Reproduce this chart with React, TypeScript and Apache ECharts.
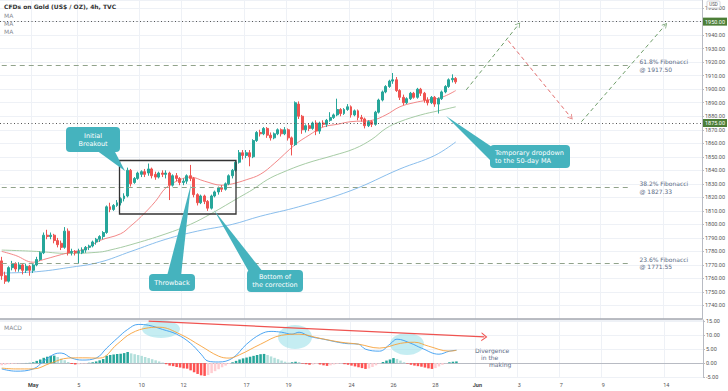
import React, { useEffect, useRef } from 'react';
import * as echarts from 'echarts';

const BAR_COUNT = 201;

// x-axis tick labels (bar index of each label)
const xTickIndex = [9, 22, 40, 52, 70, 82, 100, 112, 124, 136, 148, 160, 172, 190];
const xTickText = ['May', '5', '10', '12', '17', '19', '24', '26', '28', 'Jun', '3', '7', '9', '14'];
const xTickBold = ['May', 'Jun'];

// 4h candles: [open, close, low, high]
const candles: number[][] = [
  [1773, 1762, 1759, 1776], [1762, 1758, 1756, 1765], [1758, 1768, 1757, 1769], [1768, 1771, 1766, 1773],
  [1771, 1767, 1765, 1772], [1767, 1770, 1765, 1772], [1770, 1766, 1763, 1771], [1766, 1769, 1764, 1771],
  [1769, 1766, 1762, 1770], [1766, 1770, 1764, 1771], [1770, 1774, 1769, 1776], [1774, 1779, 1773, 1780],
  [1779, 1792, 1778, 1794], [1792, 1791, 1789, 1796], [1791, 1792, 1789, 1794], [1792, 1788, 1786, 1793],
  [1788, 1785, 1783, 1790], [1786, 1783, 1781, 1788], [1783, 1795, 1782, 1798], [1795, 1779, 1777, 1797],
  [1779, 1780, 1777, 1782], [1780, 1779, 1777, 1781], [1779, 1780, 1771, 1782], [1779, 1781, 1778, 1783],
  [1781, 1783, 1779, 1784], [1783, 1784, 1781, 1785], [1784, 1787, 1783, 1788], [1787, 1789, 1785, 1790],
  [1789, 1791, 1787, 1792], [1791, 1794, 1789, 1795], [1794, 1813, 1793, 1814], [1813, 1811, 1809, 1816],
  [1811, 1814, 1810, 1815], [1814, 1816, 1813, 1818], [1816, 1819, 1814, 1820], [1819, 1821, 1817, 1823],
  [1821, 1840, 1820, 1842], [1840, 1830, 1828, 1841], [1831, 1834, 1830, 1835], [1834, 1838, 1833, 1839],
  [1837, 1839, 1835, 1840], [1839, 1837, 1835, 1841], [1838, 1841, 1836, 1845], [1841, 1836, 1834, 1842],
  [1837, 1835, 1833, 1839], [1835, 1838, 1834, 1839], [1838, 1837, 1835, 1840], [1837, 1838, 1834, 1840],
  [1838, 1829, 1818, 1839], [1829, 1836, 1828, 1837], [1836, 1834, 1832, 1838], [1834, 1831, 1829, 1835],
  [1831, 1832, 1829, 1834], [1832, 1836, 1830, 1837], [1836, 1834, 1832, 1844], [1834, 1822, 1820, 1835],
  [1822, 1816, 1814, 1823], [1816, 1821, 1815, 1822], [1821, 1817, 1815, 1822], [1817, 1812, 1810, 1818],
  [1812, 1821, 1811, 1822], [1821, 1824, 1820, 1825], [1824, 1827, 1822, 1828], [1827, 1826, 1824, 1829],
  [1826, 1830, 1825, 1831], [1830, 1836, 1829, 1837], [1836, 1840, 1834, 1841], [1840, 1846, 1839, 1847],
  [1846, 1853, 1845, 1855], [1853, 1851, 1848, 1855], [1851, 1853, 1849, 1855], [1853, 1850, 1843, 1855],
  [1850, 1862, 1849, 1863], [1862, 1868, 1861, 1869], [1868, 1867, 1865, 1870], [1867, 1871, 1866, 1872],
  [1871, 1866, 1864, 1872], [1866, 1864, 1862, 1868], [1864, 1867, 1863, 1868], [1867, 1870, 1866, 1871],
  [1870, 1867, 1865, 1871], [1867, 1870, 1866, 1872], [1870, 1864, 1862, 1871], [1864, 1859, 1851, 1865],
  [1859, 1890, 1858, 1891], [1889, 1880, 1878, 1891], [1880, 1870, 1867, 1881], [1870, 1873, 1868, 1874],
  [1873, 1871, 1869, 1875], [1871, 1875, 1870, 1876], [1875, 1869, 1866, 1877], [1869, 1875, 1867, 1876],
  [1875, 1874, 1872, 1877], [1874, 1877, 1872, 1878], [1877, 1879, 1876, 1883], [1879, 1881, 1878, 1882],
  [1881, 1885, 1880, 1893], [1885, 1882, 1880, 1886], [1882, 1885, 1881, 1886], [1885, 1887, 1884, 1889],
  [1887, 1881, 1879, 1888], [1881, 1884, 1880, 1885], [1884, 1879, 1877, 1885], [1879, 1878, 1876, 1881],
  [1878, 1873, 1871, 1879], [1873, 1876, 1872, 1877], [1876, 1874, 1872, 1877], [1874, 1883, 1873, 1884],
  [1883, 1892, 1882, 1893], [1892, 1898, 1891, 1899], [1898, 1902, 1897, 1903], [1902, 1906, 1901, 1907],
  [1906, 1907, 1904, 1912], [1907, 1899, 1898, 1909], [1899, 1894, 1892, 1900], [1894, 1890, 1888, 1896],
  [1890, 1893, 1889, 1894], [1893, 1897, 1892, 1898], [1897, 1894, 1893, 1898], [1894, 1900, 1893, 1901],
  [1900, 1897, 1895, 1901], [1897, 1892, 1890, 1898], [1892, 1890, 1888, 1894], [1890, 1894, 1889, 1895],
  [1894, 1889, 1887, 1895], [1889, 1893, 1882, 1894], [1893, 1898, 1892, 1899], [1898, 1902, 1897, 1903],
  [1902, 1907, 1901, 1908], [1907, 1908, 1905, 1911], [1908, 1905.45, 1904, 1909],
];

// moving averages: [bar index, price]
const maFast: number[][] = [
  [0, 1780], [4, 1777], [9, 1772], [12, 1774], [19, 1779], [24, 1782], [28, 1788], [34, 1793],
  [37, 1799], [40, 1806], [44, 1817], [47, 1827], [51, 1833], [54, 1835], [58, 1832], [63, 1829],
  [66, 1830], [70, 1833], [74, 1837], [78, 1845], [84, 1859], [88, 1866], [92, 1872], [96, 1874],
  [100, 1876], [106, 1877], [110, 1881], [114, 1887], [118, 1890], [122, 1892], [126, 1894], [130, 1899],
];
const maMid: number[][] = [
  [0, 1781], [10, 1780], [19, 1778.5], [28, 1779.5], [31, 1781], [37, 1785], [47, 1793], [54, 1800],
  [60, 1808], [68, 1820], [72, 1826], [76, 1833], [80, 1838], [87, 1845], [95, 1851], [101, 1856],
  [106, 1863], [110, 1871], [114, 1876], [120, 1881], [125, 1884], [130, 1887],
];
const maSlow: number[][] = [
  [0, 1764], [10, 1765], [19, 1768], [28, 1772], [37, 1780], [47, 1789], [56, 1795], [66, 1800],
  [74, 1806], [85, 1813], [100, 1825], [114, 1841], [124, 1851], [130, 1861],
];

// MACD pane
const macdLine: number[][] = [
  [0, -2.1], [4, -2.9], [9, -2.1], [12, 0.7], [15, 3.2], [17, 3.6], [20, 1.8], [23, 1.1], [27, 1.8],
  [30, 5.4], [33, 8.9], [36, 12.1], [39, 13.9], [42, 13.6], [46, 12.1], [50, 10.4], [54, 7.1],
  [57, 3.2], [59, 0.7], [62, 0.4], [66, 1.8], [70, 6.8], [74, 10.4], [77, 11.4], [80, 11.1],
  [83, 10.4], [85, 11.1], [88, 9.6], [92, 8.6], [98, 7.1], [102, 6.8], [104, 5.0], [108, 4.3],
  [111, 6.8], [113, 8.6], [117, 7.1], [120, 5.4], [125, 3.2], [128, 4.3], [130, 4.6],
];
const signalLine: number[][] = [
  [0, -1.8], [4, -2.1], [9, -2.1], [14, 0], [19, 1.8], [23, 1.9], [28, 1.8], [33, 6.8], [37, 10.7],
  [42, 12.7], [45, 12.9], [51, 10.4], [57, 6.1], [62, 2.5], [65, 1.8], [68, 3.0], [74, 6.8], [80, 10],
  [85, 10.4], [91, 8.9], [97, 7.5], [102, 6.8], [108, 5.4], [114, 7.1], [118, 7.5], [122, 6.1],
  [128, 4.3], [130, 4.6],
];
const macdHist: number[] = [
  -0.8, -0.6, -0.4, -0.3, -0.2, -0.1, 0, 0.05, 0.1, 0.3, 0.8, 1.3, 1.9, 2.3, 2.6, 2.7, 2.2, 1.6, 1.0, 0.4,
  -0.3, -0.5, -0.4, -0.2, -0.1, 0.1, 0.3, 0.6, 1.0, 1.5, 2.6, 2.9, 3.1, 3.3, 3.4, 3.6, 4.0, 3.5, 3.2, 2.9,
  2.6, 2.2, 1.8, 1.4, 1.0, 0.6, 0.2, -0.4, -0.9, -1.1, -1.4, -1.6, -1.9, -2.0, -2.6, -3.3, -3.9, -4.4, -4.6, -4.3,
  -3.6, -2.9, -2.2, -1.5, -0.9, -0.3, 0.3, 0.8, 1.3, 1.7, 2.0, 2.3, 2.6, 2.9, 3.2, 3.3, 2.9, 2.4, 1.9, 1.4,
  0.9, 0.5, 0.2, 0.3, 0.5, 0.4, -0.2, -0.4, -0.6, -0.5, -0.3, -0.5, -0.8, -1.0, -0.8, -0.5, -0.3, -0.2, -0.4, -0.6,
  -0.9, -1.2, -1.5, -1.8, -2.1, -1.9, -1.4, -0.8, -0.2, 0.4, 0.9, 1.3, 1.8, 1.5, 0.9, 0.3, -0.2, -0.6, -0.9, -1.1,
  -1.3, -1.6, -1.9, -2.1, -1.8, -1.2, -0.6, -0.1, 0.3, 0.5, 0.6,
];

// levels
const resistanceLevels = [1950, 1875];
const lastPrice = 1905.45;
const fibLevels = [1917.5, 1827.33, 1771.55];
const fibNames = ['61.8% Fibonacci', '38.2% Fibonacci', '23.6% Fibonacci'];
const fibEndIndex = 180;

// projected path [bar index, price]
const projUp1 = [[133, 1899.5], [148, 1948]];
const projDown = [[145, 1936], [163, 1879]];
const projUp2 = [[166, 1876], [190, 1947.5]];
// divergence trend line on MACD [bar index, value]
const divergence = [[42, 15.1], [138, 9.4]];

const categories = Array.from({ length: BAR_COUNT }, (_, i) => 'bar' + i);

const UP = '#26a69a';
const DOWN = '#ef5350';
const TEAL = '#45b3be';
const FONT = 'DejaVu Sans';
const AXFONT = 'Roboto';
const CHEVRON = 'path://M0,10 L5,0 L10,10 L8.6,10 L5,2.8 L1.4,10 Z';

function callout(box: number[], pointer: number[][], text: string, tx: number, ty: number, align: string) {
  return [
    { type: 'polygon', z: 100, shape: { points: pointer }, style: { fill: TEAL } },
    { type: 'rect', z: 100, shape: { x: box[0], y: box[1], width: box[2], height: box[3], r: 4 }, style: { fill: TEAL } },
    {
      type: 'text', z: 101, x: tx, y: ty,
      style: {
        text, fill: '#ffffff', fontSize: 6.5, fontFamily: FONT, lineHeight: 8,
        align, textAlign: align, verticalAlign: 'middle', textVerticalAlign: 'middle',
      },
    },
  ];
}

export default function App() {
  const ref = useRef<HTMLDivElement>(null);
  useEffect(() => {
    if (!ref.current) return;
    const chart = echarts.init(ref.current, undefined, { renderer: 'svg' });

    const histData = macdHist.map((v, i) => {
      const prev = i > 0 ? macdHist[i - 1] : v;
      let color;
      if (v >= 0) color = v >= prev ? UP : '#b2dfdb';
      else color = v < prev ? '#ff5252' : '#ffcdd2';
      return { value: v, itemStyle: { color } };
    });

    const isTick = (i: number) => xTickIndex.indexOf(i) >= 0;
    const gridLine = { show: true, interval: (i: number) => isTick(i), lineStyle: { color: '#eef1f6', width: 1 } };

    const levelLabel = (bg: string, text: string) => ({
      show: true, position: 'end', distance: 1, formatter: text, color: '#fff', backgroundColor: bg,
      padding: [1, 2, 1, 2], fontSize: 5.5, fontFamily: AXFONT,
    });

    const fibLabel = (name: string, v: number) => ({
      show: true, position: 'end', distance: 9, formatter: name + '\n@ ' + v.toFixed(2),
      color: '#5b6b85', fontSize: 6, fontFamily: FONT, lineHeight: 7.5, align: 'left',
    });
    const fibStyle = { type: [5, 4], color: '#91a38b', width: 1 };

    const projItem = (pts: number[][], color: string) => [
      { coord: pts[0], symbol: 'none', lineStyle: { type: [4, 3], color, width: 1 }, label: { show: false } },
      { coord: pts[1], symbol: CHEVRON, symbolSize: [6, 5], itemStyle: { color }, lineStyle: { type: [4, 3], color, width: 1 }, label: { show: false } },
    ];

    const option: any = {
      animation: false,
      backgroundColor: '#ffffff',
      grid: [
        { left: 0, right: 25, top: 0, height: 319 },
        { left: 0, right: 25, top: 320, height: 57 },
      ],
      xAxis: [
        {
          type: 'category', gridIndex: 0, data: categories, boundaryGap: true,
          axisLabel: { show: false }, axisTick: { show: false },
          axisLine: { show: true, lineStyle: { color: '#a5a8b0', width: 1.5 } },
          splitLine: gridLine,
        },
        {
          type: 'category', gridIndex: 1, data: categories, boundaryGap: true,
          axisTick: { show: false },
          axisLine: { show: true, lineStyle: { color: '#b8bbc3', width: 1 } },
          splitLine: gridLine,
          axisLabel: {
            show: true, interval: (i: number) => isTick(i), margin: 5, fontSize: 5.5, fontFamily: AXFONT, color: '#555',
            formatter: (_v: string, i: number) => {
              const t = xTickText[xTickIndex.indexOf(i)];
              return xTickBold.indexOf(t) >= 0 ? '{b|' + t + '}' : t;
            },
            rich: { b: { fontWeight: 'bold', fontSize: 5.5, fontFamily: AXFONT, color: '#444' } },
          },
        },
      ],
      yAxis: [
        {
          type: 'value', gridIndex: 0, position: 'right', min: 1730, max: 1966, interval: 10,
          axisLine: { show: true, lineStyle: { color: '#b8bbc3' } },
          axisTick: { show: true, length: 2, lineStyle: { color: '#b8bbc3' } },
          axisLabel: { fontSize: 5.5, fontFamily: AXFONT, color: '#555', margin: 3, showMinLabel: false, showMaxLabel: false, formatter: (v: number) => v.toFixed(2) },
          splitLine: { show: true, lineStyle: { color: '#eef1f6' } },
        },
        {
          type: 'value', gridIndex: 1, position: 'right', min: -5, max: 15.5, interval: 5,
          axisLine: { show: true, lineStyle: { color: '#b8bbc3' } },
          axisTick: { show: true, length: 2, lineStyle: { color: '#b8bbc3' } },
          axisLabel: { fontSize: 5.5, fontFamily: AXFONT, color: '#555', margin: 3, showMaxLabel: false, formatter: (v: number) => v.toFixed(2) },
          splitLine: { show: true, lineStyle: { color: '#eef1f6' } },
        },
      ],
      series: [
        {
          type: 'line', xAxisIndex: 0, yAxisIndex: 0, data: maSlow, smooth: 0.4, symbol: 'none',
          lineStyle: { color: '#7db7ea', width: 0.9 }, z: 2,
        },
        {
          type: 'line', xAxisIndex: 0, yAxisIndex: 0, data: maMid, smooth: 0.4, symbol: 'none',
          lineStyle: { color: '#9cc59a', width: 0.9 }, z: 2,
        },
        {
          type: 'line', xAxisIndex: 0, yAxisIndex: 0, data: maFast, smooth: 0.4, symbol: 'none',
          lineStyle: { color: '#f17b7b', width: 0.9 }, z: 2,
        },
        {
          type: 'candlestick', xAxisIndex: 0, yAxisIndex: 0, data: candles, barWidth: '70%', z: 3,
          itemStyle: { color: UP, color0: DOWN, borderColor: UP, borderColor0: DOWN, borderWidth: 1 },
          markLine: {
            silent: true, symbol: ['none', 'none'], animation: false,
            data: [
              ...resistanceLevels.map((v) => ({
                yAxis: v, lineStyle: { type: [1, 2.5], color: '#555', width: 1 }, label: levelLabel('#4c7e37', v.toFixed(2)),
              })),
              { yAxis: lastPrice, lineStyle: { opacity: 0 }, label: levelLabel('#ef5350', lastPrice.toFixed(2)) },
              ...fibLevels.map((v, k) => [
                { coord: [0, v], lineStyle: fibStyle, label: fibLabel(fibNames[k], v) },
                { coord: [fibEndIndex, v], lineStyle: fibStyle, label: fibLabel(fibNames[k], v) },
              ]),
              projItem(projUp1, '#6f9e6a'),
              projItem(projDown, '#e26d6d'),
              projItem(projUp2, '#6f9e6a'),
            ],
          },
        },
        {
          type: 'bar', xAxisIndex: 1, yAxisIndex: 1, data: histData, barWidth: '72%', z: 2,
        },
        {
          type: 'line', xAxisIndex: 1, yAxisIndex: 1, data: macdLine, smooth: 0.4, symbol: 'none',
          lineStyle: { color: '#3a9cf0', width: 0.9 }, z: 3,
        },
        {
          type: 'line', xAxisIndex: 1, yAxisIndex: 1, data: signalLine, smooth: 0.4, symbol: 'none',
          lineStyle: { color: '#f7a13a', width: 0.9 }, z: 3,
          markLine: {
            silent: true, symbol: ['none', 'none'], animation: false,
            data: [[
              { coord: divergence[0], symbol: 'none', lineStyle: { type: 'solid', color: '#ef5350', width: 1.2 }, label: { show: false } },
              { coord: divergence[1], symbol: CHEVRON, symbolSize: [9, 6], itemStyle: { color: '#ef5350' }, lineStyle: { type: 'solid', color: '#ef5350', width: 1.2 }, label: { show: false } },
            ]],
          },
        },
      ],
      graphic: {
        elements: [
          { type: 'text', x: 4, y: 3, z: 50, style: { text: 'CFDs on Gold (US$ / OZ), 4h, TVC', fill: '#333', fontSize: 6, fontWeight: 'bold', fontFamily: FONT } },
          { type: 'text', x: 4, y: 12, z: 50, style: { text: 'MA', fill: '#8a8d96', fontSize: 6, fontFamily: FONT } },
          { type: 'text', x: 4, y: 20, z: 50, style: { text: 'MA', fill: '#8a8d96', fontSize: 6, fontFamily: FONT } },
          { type: 'text', x: 4, y: 28, z: 50, style: { text: 'MA', fill: '#8a8d96', fontSize: 6, fontFamily: FONT } },
          { type: 'text', x: 4, y: 324, z: 50, style: { text: 'MACD', fill: '#8a8d96', fontSize: 6, fontFamily: FONT } },
          { type: 'rect', z: 50, shape: { x: 707, y: 1, width: 13, height: 7, r: 1 }, style: { fill: '#fff', stroke: '#c9ccd3', lineWidth: 0.8 } },
          { type: 'text', z: 51, x: 713.5, y: 4.5, style: { text: 'USD', fill: '#555', fontSize: 4.5, fontFamily: AXFONT, align: 'center', textAlign: 'center', verticalAlign: 'middle', textVerticalAlign: 'middle' } },
          // consolidation box
          { type: 'rect', z: 60, shape: { x: 119.5, y: 160.5, width: 116.5, height: 53.5 }, style: { fill: 'none', stroke: '#333', lineWidth: 1.3 } },
          // MACD highlights
          { type: 'ellipse', z: 1, shape: { cx: 161, cy: 329, rx: 19, ry: 9 }, style: { fill: 'rgba(150,222,232,0.55)' } },
          { type: 'ellipse', z: 1, shape: { cx: 295, cy: 337, rx: 17, ry: 12 }, style: { fill: 'rgba(150,222,232,0.55)' } },
          { type: 'ellipse', z: 1, shape: { cx: 407, cy: 344, rx: 17, ry: 11 }, style: { fill: 'rgba(150,222,232,0.55)' } },
          { type: 'text', z: 50, x: 475, y: 347, style: { text: 'Divergence', fill: '#5b6b85', fontSize: 6, fontFamily: FONT } },
          { type: 'text', z: 50, x: 481, y: 354, style: { text: 'in the', fill: '#5b6b85', fontSize: 6, fontFamily: FONT } },
          { type: 'text', z: 50, x: 489, y: 361, style: { text: 'making', fill: '#5b6b85', fontSize: 6, fontFamily: FONT } },
          ...callout([66, 127, 54, 25], [[96, 150], [114, 150], [125, 171]], 'Initial\nBreakout', 93, 139.5, 'center'),
          ...callout([149, 274, 46, 17], [[167, 276], [181, 276], [191, 184]], 'Throwback', 172, 282.5, 'center'),
          ...callout([247, 270, 56, 22], [[249, 272], [263, 272], [214, 210]], 'Bottom of\nthe correction', 275, 281, 'center'),
          ...callout([490, 145, 80, 23], [[446, 116], [492, 147], [492, 162]], 'Temporary dropdown\nto the 50-day MA', 495, 156.5, 'left'),
        ],
      },
    };

    chart.setOption(option);
    return () => chart.dispose();
  }, []);

  return <div ref={ref} style={{ position: 'absolute', left: 0, top: 0, width: 728, height: 391 }} />;
}
